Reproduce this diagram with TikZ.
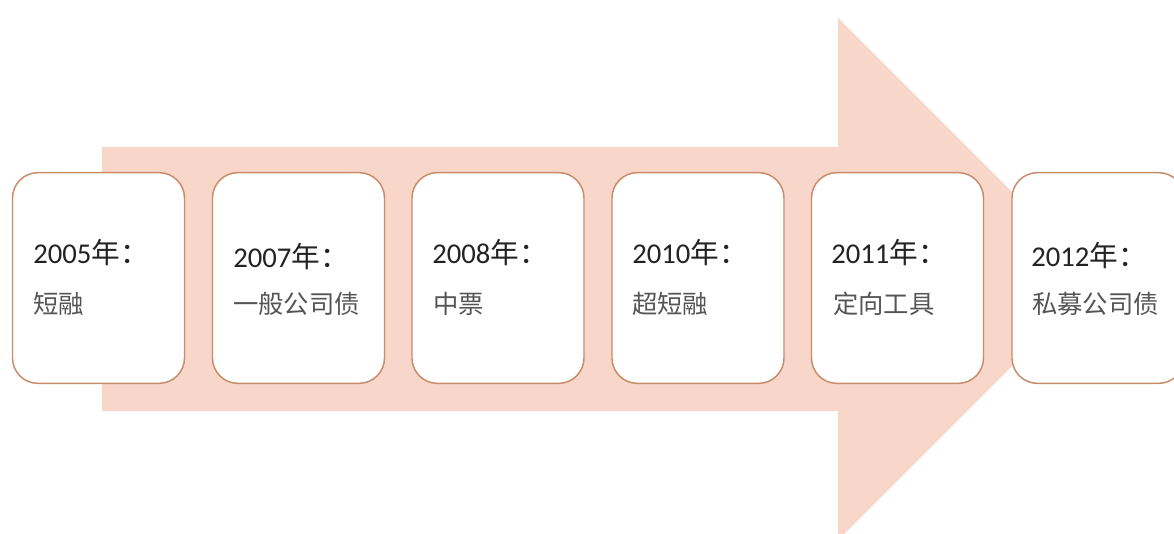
\documentclass[tikz,border=0pt]{standalone}
\usepackage{fontspec}
\setmainfont{Carlito}
\newfontfamily\cjk{Noto Sans CJK SC}
\definecolor{arrowfill}{RGB}{248,214,202}
\definecolor{boxline}{RGB}{200,140,105}
\definecolor{yeartxt}{RGB}{35,35,35}
\definecolor{subtxt}{RGB}{85,85,85}
\tikzset{
  yearbox/.style={draw=boxline, line width=1.1pt, fill=white, rounded corners=19pt,
    minimum width=129pt, minimum height=158pt, inner sep=0pt},
  yeartext/.style={anchor=west, inner sep=0pt, text=yeartxt, font=\fontsize{21.5}{24}\selectfont},
  subtext/.style={anchor=west, inner sep=0pt, text=subtxt, font=\cjk\fontsize{19}{22}\selectfont}
}
\begin{document}
\begin{tikzpicture}[x=0.75pt,y=-0.75pt]
\useasboundingbox (0,0) rectangle (1174,533);
\clip (0,0) rectangle (1174,533);
\fill[arrowfill] (102,147) -- (838,147) -- (838,18) -- (1099,279) -- (838,540) -- (838,411) -- (102,411) -- cycle;
\node[yearbox] (b1) at (98.5,278) {};
\node[yearbox] (b2) at (298.5,278) {};
\node[yearbox] (b3) at (498,278) {};
\node[yearbox] (b4) at (698,278) {};
\node[yearbox] (b5) at (897.5,278) {};
\node[yearbox] (b6) at (1098,278) {};
\node[yeartext] (y1) at (33,253) {2005{\cjk 年：}};
\node[subtext]  (s1) at (33,304) {短融};
\node[yeartext] (y2) at (233,257) {2007{\cjk 年：}};
\node[subtext]  (s2) at (233,304) {一般公司债};
\node[yeartext] (y3) at (432,253) {2008{\cjk 年：}};
\node[subtext]  (s3) at (433,304) {中票};
\node[yeartext] (y4) at (632,253) {2010{\cjk 年：}};
\node[subtext]  (s4) at (632,304) {超短融};
\node[yeartext] (y5) at (831,253) {2011{\cjk 年：}};
\node[subtext]  (s5) at (833,304) {定向工具};
\node[yeartext] (y6) at (1031,256) {2012{\cjk 年：}};
\node[subtext]  (s6) at (1032,304) {私募公司债};
\end{tikzpicture}
\end{document}
